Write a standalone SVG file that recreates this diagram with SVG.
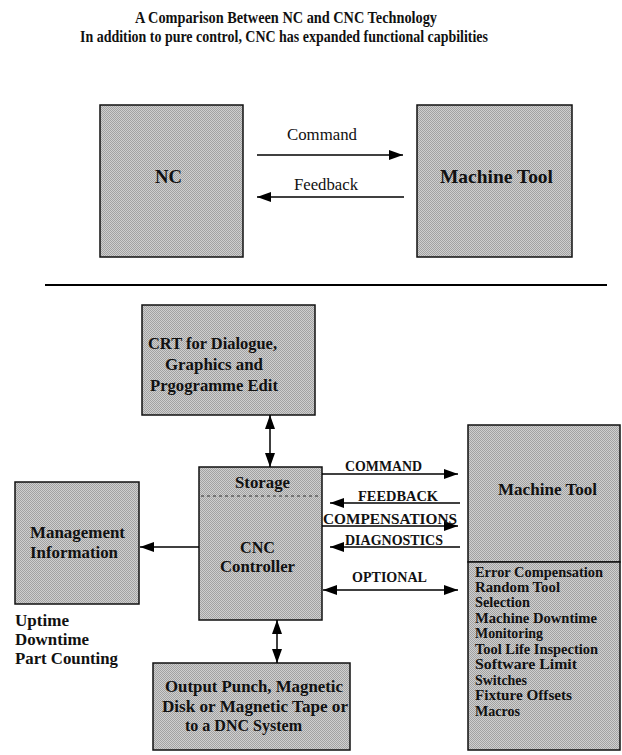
<svg xmlns="http://www.w3.org/2000/svg" width="622" height="755" viewBox="0 0 622 755">
  <defs>
    <!-- halftone grey fill used by every block -->
    <pattern id="halftone" width="2" height="2" patternUnits="userSpaceOnUse">
      <rect width="2" height="2" fill="#cfcfcf"/>
      <rect x="0" y="0" width="1" height="1" fill="#a2a2a2"/>
      <rect x="1" y="1" width="1" height="1" fill="#a2a2a2"/>
    </pattern>
    <marker id="head" markerUnits="userSpaceOnUse" markerWidth="14" markerHeight="10" refX="14" refY="5" orient="auto-start-reverse">
      <path d="M0,0 L14,5 L0,10 z" fill="#000"/>
    </marker>
  </defs>
  <style>
    .box { fill: url(#halftone); stroke: #111; stroke-width: 1.5; }
    .conn { stroke: #000; stroke-width: 1.5; fill: none; }
    text { font-family: "Liberation Serif", "Times New Roman", serif; fill: #111; }
    .title { font-size: 16px; font-weight: bold; }
    .big { font-size: 19px; font-weight: bold; }
    .lbl { font-size: 17px; font-weight: bold; }
    .plain { font-size: 17px; }
    .caps { font-size: 14px; font-weight: bold; }
    .list { font-size: 14px; font-weight: bold; }
  </style>

  <rect width="622" height="755" fill="#fff"/>

  <!-- heading -->
  <g id="heading">
    <text class="title" x="135" y="23" textLength="302" lengthAdjust="spacingAndGlyphs">A Comparison Between NC and CNC Technology</text>
    <text class="title" x="80" y="42" textLength="408" lengthAdjust="spacingAndGlyphs">In addition to pure control, CNC has expanded functional capbilities</text>
  </g>

  <!-- upper scheme: plain NC -->
  <g id="nc">
    <rect class="box" x="100" y="105" width="143" height="152"/>
    <text class="big" x="155" y="183" textLength="27" lengthAdjust="spacingAndGlyphs">NC</text>
  </g>
  <g id="machine-tool-nc">
    <rect class="box" x="417" y="105" width="155" height="152"/>
    <text class="big" x="440" y="183" textLength="113" lengthAdjust="spacingAndGlyphs">Machine Tool</text>
  </g>

  <!-- divider between the two schemes -->
  <line x1="45" y1="285" x2="607" y2="285" stroke="#000" stroke-width="2"/>

  <!-- lower scheme: CNC -->
  <g id="crt">
    <rect class="box" x="142" y="305" width="173" height="110"/>
    <text class="lbl" x="148" y="349" textLength="129" lengthAdjust="spacingAndGlyphs">CRT for Dialogue,</text>
    <text class="lbl" x="165" y="370" textLength="98" lengthAdjust="spacingAndGlyphs">Graphics and</text>
    <text class="lbl" x="150" y="391" textLength="128" lengthAdjust="spacingAndGlyphs">Prgogramme Edit</text>
  </g>

  <g id="cnc-controller">
    <rect class="box" x="199" y="467" width="123" height="153"/>
    <line x1="201" y1="496" x2="321" y2="496" stroke="#333" stroke-width="1" stroke-dasharray="3 3"/>
    <text class="lbl" x="235" y="488" textLength="55" lengthAdjust="spacingAndGlyphs">Storage</text>
    <text class="lbl" x="240" y="553" textLength="35" lengthAdjust="spacingAndGlyphs">CNC</text>
    <text class="lbl" x="220" y="572" textLength="75" lengthAdjust="spacingAndGlyphs">Controller</text>
  </g>

  <g id="management">
    <rect class="box" x="15" y="482" width="124" height="122"/>
    <text class="lbl" x="30" y="538" textLength="95" lengthAdjust="spacingAndGlyphs">Management</text>
    <text class="lbl" x="30" y="558" textLength="88" lengthAdjust="spacingAndGlyphs">Information</text>
  </g>

  <g id="management-items">
    <text class="lbl" x="15" y="626" textLength="54" lengthAdjust="spacingAndGlyphs">Uptime</text>
    <text class="lbl" x="15" y="645" textLength="74" lengthAdjust="spacingAndGlyphs">Downtime</text>
    <text class="lbl" x="15" y="664" textLength="103" lengthAdjust="spacingAndGlyphs">Part Counting</text>
  </g>

  <g id="machine-tool-cnc">
    <rect class="box" x="468" y="425" width="152" height="137"/>
    <text class="lbl" x="498" y="495" textLength="99" lengthAdjust="spacingAndGlyphs">Machine Tool</text>
  </g>

  <g id="options">
    <rect class="box" x="468" y="562" width="152" height="188"/>
    <text class="list" x="475" y="577" textLength="128" lengthAdjust="spacingAndGlyphs">Error Compensation</text>
    <text class="list" x="475" y="592" textLength="85" lengthAdjust="spacingAndGlyphs">Random Tool</text>
    <text class="list" x="475" y="607" textLength="55" lengthAdjust="spacingAndGlyphs">Selection</text>
    <text class="list" x="475" y="623" textLength="122" lengthAdjust="spacingAndGlyphs">Machine Downtime</text>
    <text class="list" x="475" y="638" textLength="68" lengthAdjust="spacingAndGlyphs">Monitoring</text>
    <text class="list" x="475" y="654" textLength="123" lengthAdjust="spacingAndGlyphs">Tool Life Inspection</text>
    <text class="list" x="475" y="669" textLength="102" lengthAdjust="spacingAndGlyphs">Software Limit</text>
    <text class="list" x="475" y="685" textLength="52" lengthAdjust="spacingAndGlyphs">Switches</text>
    <text class="list" x="475" y="700" textLength="97" lengthAdjust="spacingAndGlyphs">Fixture Offsets</text>
    <text class="list" x="475" y="716" textLength="45" lengthAdjust="spacingAndGlyphs">Macros</text>
  </g>

  <g id="output">
    <rect class="box" x="153" y="663" width="197" height="87"/>
    <text class="lbl" x="165" y="692" textLength="178" lengthAdjust="spacingAndGlyphs">Output Punch, Magnetic</text>
    <text class="lbl" x="162" y="712" textLength="186" lengthAdjust="spacingAndGlyphs">Disk or Magnetic Tape or</text>
    <text class="lbl" x="185" y="731" textLength="117" lengthAdjust="spacingAndGlyphs">to a DNC System</text>
  </g>

  <!-- connectors -->
  <g id="connectors">
    <!-- NC and machine tool -->
    <line class="conn" x1="257" y1="155" x2="403" y2="155" marker-end="url(#head)"/>
    <line class="conn" x1="404" y1="197" x2="257" y2="197" marker-end="url(#head)"/>
    <text class="plain" x="287" y="140" textLength="70" lengthAdjust="spacingAndGlyphs">Command</text>
    <text class="plain" x="294" y="190" textLength="64" lengthAdjust="spacingAndGlyphs">Feedback</text>

    <!-- CNC links -->
    <line class="conn" x1="270" y1="415" x2="270" y2="467" marker-start="url(#head)" marker-end="url(#head)"/>
    <line class="conn" x1="277" y1="620" x2="277" y2="663" marker-start="url(#head)" marker-end="url(#head)"/>
    <line class="conn" x1="199" y1="547" x2="140" y2="547" marker-end="url(#head)"/>

    <line class="conn" x1="322" y1="474" x2="458" y2="474" marker-end="url(#head)"/>
    <line class="conn" x1="460" y1="503" x2="330" y2="503" marker-end="url(#head)"/>
    <line class="conn" x1="322" y1="526" x2="458" y2="526" marker-end="url(#head)"/>
    <line class="conn" x1="460" y1="547" x2="330" y2="547" marker-end="url(#head)"/>
    <line class="conn" x1="323" y1="590" x2="458" y2="590" marker-start="url(#head)" marker-end="url(#head)"/>

    <text class="caps" x="345" y="471" textLength="77" lengthAdjust="spacingAndGlyphs">COMMAND</text>
    <text class="caps" x="358" y="501" textLength="80" lengthAdjust="spacingAndGlyphs">FEEDBACK</text>
    <text class="caps" x="323" y="524" textLength="134" lengthAdjust="spacingAndGlyphs">COMPENSATIONS</text>
    <text class="caps" x="345" y="545" textLength="98" lengthAdjust="spacingAndGlyphs">DIAGNOSTICS</text>
    <text class="caps" x="352" y="582" textLength="75" lengthAdjust="spacingAndGlyphs">OPTIONAL</text>
  </g>
</svg>
